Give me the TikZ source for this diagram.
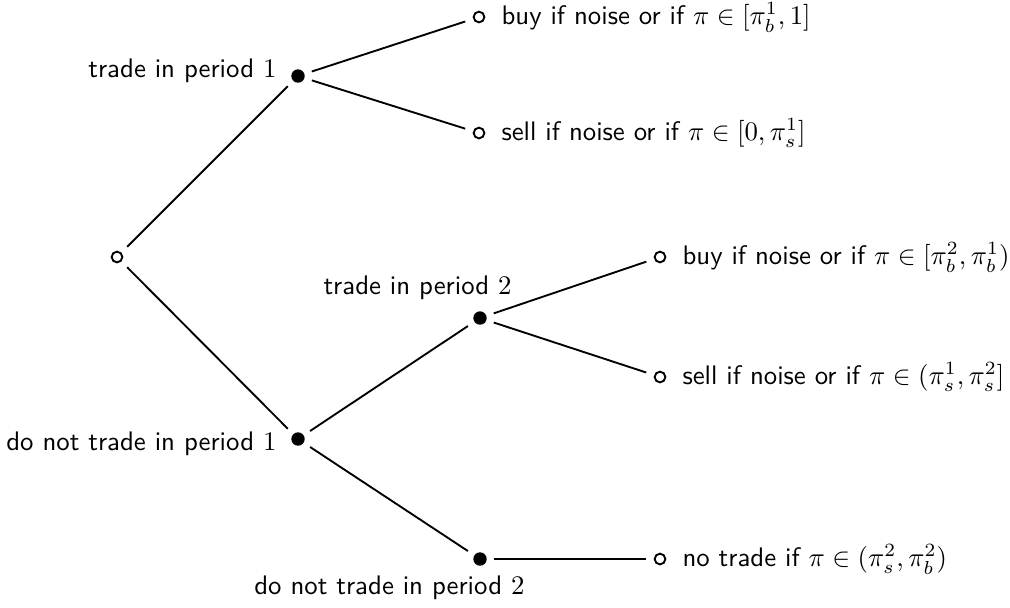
\documentclass[tikz,border=0pt]{standalone}
\usetikzlibrary{calc}
\begin{document}
\begin{tikzpicture}[x=0.373pt,y=-0.373pt,
  open/.style={circle,draw,line width=0.7pt,minimum size=4pt,inner sep=0pt,outer sep=3.4pt},
  full/.style={circle,fill,minimum size=5pt,inner sep=0pt,outer sep=2.9pt},
  lbl/.style={font=\sffamily,inner sep=0pt},
  edge/.style={line width=0.7pt}]
\useasboundingbox (0,0) rectangle (1010,607);
% nodes
\node[open] (R)  at (117,257) {};
\node[full] (A)  at (298,76)  {};
\node[open] (A1) at (479,17)  {};
\node[open] (A2) at (479,133) {};
\node[full] (B)  at (298,439) {};
\node[full] (C)  at (480,318) {};
\node[open] (C1) at (660,257) {};
\node[open] (C2) at (660,377) {};
\node[full] (D)  at (480,559) {};
\node[open] (D1) at (660,559) {};
% labels
\node[lbl,anchor=base east] (lA) at ($(A)+(-21,1)$)  {trade in period $1$};
\node[lbl,anchor=base east] (lB) at ($(B)+(-21,11)$) {do not trade in period $1$};
\node[lbl,anchor=base west] (lC) at ($(C)+(-157,-24)$) {trade in period $2$};
\node[lbl,anchor=base east] (lD) at ($(D)+(45,35)$) {do not trade in period $2$};
\node[lbl,anchor=base west] (lA1) at ($(A1)+(22,7.5)$) {buy if noise or if $\pi\in[\pi_b^1,1]$};
\node[lbl,anchor=base west] (lA2) at ($(A2)+(22,7.5)$) {sell if noise or if $\pi\in[0,\pi_s^1]$};
\node[lbl,anchor=base west] (lC1) at ($(C1)+(22,7.5)$) {buy if noise or if $\pi\in[\pi_b^2,\pi_b^1)$};
\node[lbl,anchor=base west] (lC2) at ($(C2)+(22,7.5)$) {sell if noise or if $\pi\in(\pi_s^1,\pi_s^2]$};
\node[lbl,anchor=base west] (lD1) at ($(D1)+(22,7.5)$) {no trade if $\pi\in(\pi_s^2,\pi_b^2)$};
% edges
\draw[edge] (R) -- (A);
\draw[edge] (R) -- (B);
\draw[edge] (A) -- (A1);
\draw[edge] (A) -- (A2);
\draw[edge] (B) -- (C);
\draw[edge] (B) -- (D);
\draw[edge] (C) -- (C1);
\draw[edge] (C) -- (C2);
\draw[edge] (D) -- (D1);
\end{tikzpicture}
\end{document}
